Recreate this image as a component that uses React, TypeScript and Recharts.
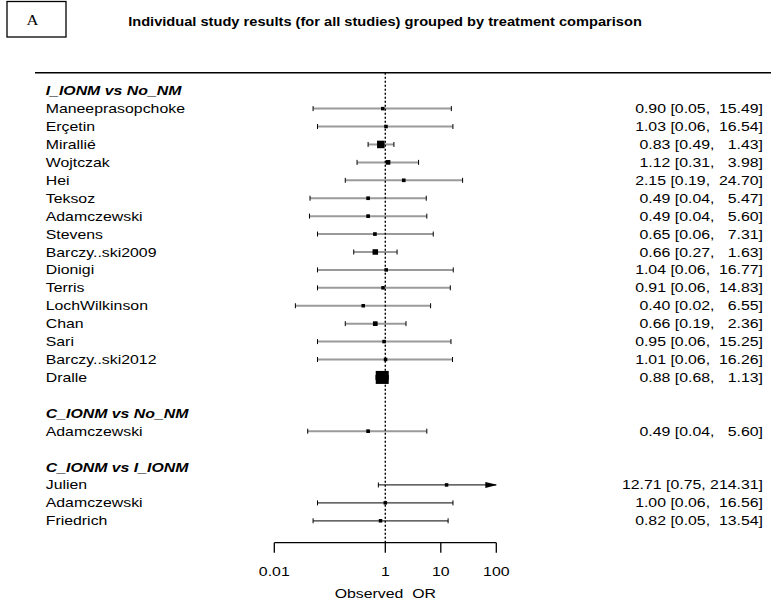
import React from 'react';
import { ScatterChart, Scatter, XAxis, YAxis, ErrorBar, ReferenceLine } from 'recharts';

// ---------- data ----------
const groups = ['I_IONM vs No_NM', 'C_IONM vs No_NM', 'C_IONM vs I_IONM'];
const studyGroup = [0, 0, 0, 0, 0, 0, 0, 0, 0, 0, 0, 0, 0, 0, 0, 0, 1, 2, 2, 2];
const studies = [
  'Maneeprasopchoke', 'Erçetin', 'Mirallié', 'Wojtczak', 'Hei', 'Teksoz', 'Adamczewski', 'Stevens',
  'Barczy..ski2009', 'Dionigi', 'Terris', 'LochWilkinson', 'Chan', 'Sari', 'Barczy..ski2012', 'Dralle',
  'Adamczewski', 'Julien', 'Adamczewski', 'Friedrich',
];
const estimates = [0.90, 1.03, 0.83, 1.12, 2.15, 0.49, 0.49, 0.65, 0.66, 1.04, 0.91, 0.40, 0.66, 0.95, 1.01, 0.88, 0.49, 12.71, 1.00, 0.82];
const lowers = [0.05, 0.06, 0.49, 0.31, 0.19, 0.044, 0.043, 0.06, 0.27, 0.06, 0.06, 0.024, 0.19, 0.06, 0.06, 0.68, 0.04, 0.75, 0.06, 0.05];
const uppers = [15.49, 16.54, 1.43, 3.98, 24.70, 5.47, 5.60, 7.31, 1.63, 16.77, 14.83, 6.55, 2.36, 15.25, 16.26, 1.13, 5.60, 214.31, 16.56, 13.54];
const xTicks = [0.01, 1, 10, 100];
const xLabel = 'Observed  OR';
const title = 'Individual study results (for all studies) grouped by treatment comparison';
const panelLetter = 'A';

// ---------- layout / style ----------
const W = 771;
const H = 613;
const X_MIN = 0.01;
const X_MAX = 100;
const FONT = '"Liberation Sans", Arial, Helvetica, sans-serif';
const SX = 1.22; // horizontal stretch of text in the reference
const PLOT_TOP = 72.7;
const PLOT_BOTTOM = 542.7;
const LEFT_W = 274.3;
const RIGHT_W = 274.7;
const ROW0_Y = 90.7;
const ROW_H = 17.92;
const LABEL_X = 45.7;
const TEXT_RIGHT_X = 763;

// rows
type RowInfo = { row: number; label: string; header: boolean };
const rows: RowInfo[] = [];
const studyRow: number[] = [];
{
  let r = 0;
  groups.forEach((g, gi) => {
    if (gi > 0) r++;
    rows.push({ row: r, label: g, header: true });
    r++;
    studies.forEach((s, i) => {
      if (studyGroup[i] === gi) {
        rows.push({ row: r, label: s, header: false });
        studyRow[i] = r;
        r++;
      }
    });
  });
}
const yMin = -(ROW0_Y - PLOT_TOP) / ROW_H;
const yMax = (PLOT_BOTTOM - ROW0_Y) / ROW_H;

// marker sizes from precision (1/SE) derived from CI width
const precision = studies.map((_, i) => (2 * 1.96) / (Math.log(uppers[i]) - Math.log(lowers[i])));
const pMin = Math.min(...precision);
const pMax = Math.max(...precision);
const markerSize = precision.map((p) => 3.5 + 9.5 * ((p - pMin) / (pMax - pMin)));

const pad = (s: string, n: number) => (s.length >= n ? s : ' '.repeat(n - s.length) + s);
const ciText = studies.map(
  (_, i) => `${pad(estimates[i].toFixed(2), 5)} [${pad(lowers[i].toFixed(2), 4)}, ${pad(uppers[i].toFixed(2), 6)}]`
);

const groupData = groups.map((_, gi) =>
  studies
    .map((s, i) => ({
      x: estimates[i],
      y: studyRow[i],
      err: [estimates[i] - lowers[i], Math.min(uppers[i], X_MAX) - estimates[i]],
      size: markerSize[i],
      g: studyGroup[i],
    }))
    .filter((d) => d.g === gi)
);

const capData = studies.flatMap((_, i) => [
  { x: lowers[i], y: studyRow[i], kind: 'cap' },
  { x: Math.min(uppers[i], X_MAX), y: studyRow[i], kind: uppers[i] > X_MAX ? 'arrow' : 'cap' },
]);

const lineStyle = [
  { stroke: '#9a9a9a', strokeWidth: 2 },
  { stroke: '#9a9a9a', strokeWidth: 2 },
  { stroke: '#333333', strokeWidth: 1.3 },
];

// ---------- renderers ----------
const SquareShape = (props: any) => {
  const { cx, cy } = props;
  const p = props.payload ?? props;
  const s = p.size ?? 4;
  if (cx == null || cy == null) return null;
  return <rect x={cx - s / 2} y={cy - s / 2} width={s} height={s} fill="#000" />;
};

const CapShape = (props: any) => {
  const { cx, cy } = props;
  const p = props.payload ?? props;
  if (cx == null || cy == null) return null;
  if (p.kind === 'arrow') {
    return <polygon points={`${cx + 1},${cy} ${cx - 11},${cy - 3} ${cx - 11},${cy + 3}`} fill="#000" />;
  }
  return <line x1={cx} x2={cx} y1={cy - 2.5} y2={cy + 2.5} stroke="#000" strokeWidth={1} />;
};

const ScaledText = ({ x, y, anchor, children, bold, italic, size = 13 }: any) => (
  <g transform={`translate(${x},${y}) scale(${SX},1)`}>
    <text
      x={0}
      y={0}
      dy="0.35em"
      textAnchor={anchor}
      fontFamily={FONT}
      fontSize={size}
      fontWeight={bold ? 'bold' : 'normal'}
      fontStyle={italic ? 'italic' : 'normal'}
      fill="#000"
      style={{ whiteSpace: 'pre' }}
    >
      {children}
    </text>
  </g>
);

const LeftTick = (props: any) => {
  const v = props.payload?.value;
  const info = rows.find((r) => r.row === v);
  if (!info) return null;
  return (
    <ScaledText x={LABEL_X} y={props.y} anchor="start" bold={info.header} italic={info.header}>
      {info.label}
    </ScaledText>
  );
};

const RightTick = (props: any) => {
  const v = props.payload?.value;
  const i = studyRow.indexOf(v);
  if (i < 0) return null;
  return (
    <ScaledText x={TEXT_RIGHT_X} y={props.y} anchor="end">
      {ciText[i]}
    </ScaledText>
  );
};

const XTick = (props: any) => {
  const v = props.payload?.value;
  return (
    <ScaledText x={props.x} y={props.y + 17} anchor="middle">
      {String(v)}
    </ScaledText>
  );
};

const XLabel = (props: any) => {
  const vb = props.viewBox || {};
  return (
    <ScaledText x={vb.x + vb.width / 2} y={593} anchor="middle">
      {xLabel}
    </ScaledText>
  );
};

export default function App() {
  return (
    <div style={{ position: 'absolute', left: 0, top: 0, width: W, height: H, background: '#fff' }}>
      <svg width={W} height={H} style={{ position: 'absolute', left: 0, top: 0 }}>
        <rect x={7} y={1.5} width={59} height={35.5} fill="none" stroke="#000" strokeWidth={1.3} />
        <g transform={`translate(32.5,20) scale(1.1,1)`}>
          <text x={0} y={0} dy="0.35em" textAnchor="middle" fontFamily='"Liberation Serif", "Times New Roman", serif' fontSize={15} fill="#000">
            {panelLetter}
          </text>
        </g>
        <ScaledText x={385} y={22} anchor="middle" bold size={12}>
          {title}
        </ScaledText>
        <line x1={35} x2={W} y1={PLOT_TOP} y2={PLOT_TOP} stroke="#000" strokeWidth={1.6} />
      </svg>
      <div style={{ position: 'absolute', left: 0, top: 0 }}>
        <ScatterChart width={W} height={H} margin={{ top: PLOT_TOP, right: 0, bottom: 0, left: 0 }}>
          <XAxis
            dataKey="x"
            type="number"
            scale="log"
            domain={[X_MIN, X_MAX]}
            allowDataOverflow
            ticks={xTicks}
            interval={0}
            tickSize={10}
            height={H - PLOT_BOTTOM}
            axisLine={{ stroke: '#000', strokeWidth: 1.3 }}
            tickLine={{ stroke: '#000', strokeWidth: 1.3 }}
            tick={<XTick />}
            label={{ content: <XLabel /> } as any}
          />
          <YAxis
            yAxisId="L"
            dataKey="y"
            type="number"
            domain={[yMin, yMax]}
            allowDataOverflow
            reversed
            width={LEFT_W}
            ticks={rows.map((r) => r.row)}
            interval={0}
            axisLine={false}
            tickLine={false}
            tick={<LeftTick />}
          />
          <YAxis
            yAxisId="R"
            orientation="right"
            dataKey="y"
            type="number"
            domain={[yMin, yMax]}
            allowDataOverflow
            reversed
            width={RIGHT_W}
            ticks={studyRow}
            interval={0}
            axisLine={false}
            tickLine={false}
            tick={<RightTick />}
          />
          {groupData.map((d, gi) => (
            <Scatter
              key={`g${gi}`}
              yAxisId="L"
              data={d}
              dataKey="x"
              shape={<SquareShape />}
              isAnimationActive={false}
            >
              <ErrorBar
                dataKey="err"
                direction="x"
                width={0}
                stroke={lineStyle[gi].stroke}
                strokeWidth={lineStyle[gi].strokeWidth}
                isAnimationActive={false}
              />
            </Scatter>
          ))}
          <Scatter yAxisId="R" data={capData} dataKey="x" shape={<CapShape />} isAnimationActive={false} />
          <ReferenceLine yAxisId="L" x={1} stroke="#000" strokeWidth={1.4} strokeDasharray="2 2" />
        </ScatterChart>
      </div>
    </div>
  );
}
